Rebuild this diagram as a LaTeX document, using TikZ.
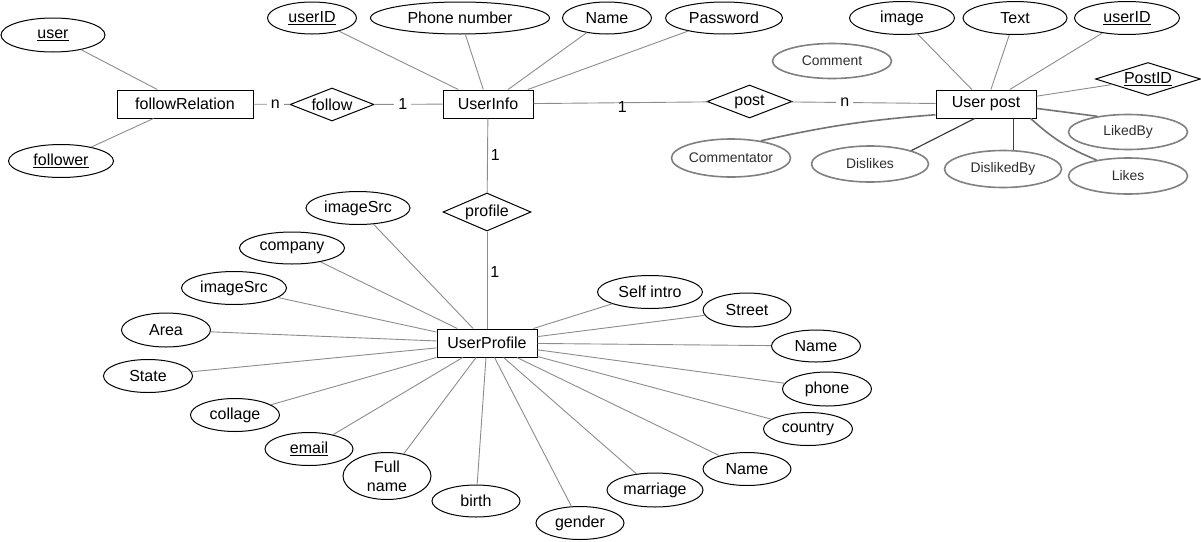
\documentclass[tikz,border=0pt]{standalone}
\usepackage{fontspec}
\setmainfont{Liberation Sans}
\usetikzlibrary{shapes.geometric}
\begin{document}
\begin{tikzpicture}[x=1pt,y=-1pt,
  every node/.style={font=\fontsize{16}{19}\selectfont, inner sep=0pt},
  sz/.style 2 args={minimum width=#1pt, minimum height=#2pt},
  attr/.style={ellipse, draw, line width=1pt},
  gattr/.style={ellipse, draw=black!50, line width=1.6pt, text=black!82, font=\fontsize{13.9}{16}\selectfont},
  ent/.style={rectangle, draw, line width=1pt},
  rel/.style={diamond, draw, line width=1pt, shape aspect=2.6},
  conn/.style={draw=black!45, line width=0.9pt},
  gconn/.style={draw=black!55, line width=1.6pt},
  dconn/.style={draw=black!75, line width=1.2pt},
  card/.style={fill=white, inner xsep=4pt, inner ysep=1pt},
]
\useasboundingbox (0,0) rectangle (1201,541);

% ---------- follow part
\node[attr, sz={104}{34}] (user) at (53,35) {\underline{user}};
\node[attr, sz={105}{33}] (follower) at (61,161) {\underline{follower}};
\node[ent, sz={136}{28}] (fr) at (185,104) {followRelation};
\node[rel, sz={84}{33}] (follow) at (332,104.5) {follow};

% ---------- UserInfo
\node[attr, sz={89}{32}] (uid) at (312,18) {\underline{userID}};
\node[attr, sz={179}{32}] (phn) at (460,18) {Phone number};
\node[attr, sz={89}{32}] (nm) at (607,18) {Name};
\node[attr, sz={117}{32}] (pwd) at (724,18) {Password};
\node[ent, sz={90}{28}] (ui) at (488,104) {UserInfo};
\node[rel, sz={85}{33}] (post) at (749.5,101.5) {post};

% ---------- User post
\node[ent, sz={100}{28}] (upost) at (986,104) {User post};
\node[attr, sz={105}{33}] (img) at (902,18) {image};
\node[attr, sz={104}{33}] (txt) at (1015,18) {Text};
\node[attr, sz={105}{33}] (uid2) at (1127,18) {\underline{userID}};
\node[rel, sz={105}{33}] (pid) at (1148,79) {\underline{PostID}};
\node[gattr, sz={119}{35}] (cmnt) at (832,61) {Comment};
\node[gattr, sz={119}{35}] (lkb) at (1128,132) {LikedBy};
\node[gattr, sz={119}{36}] (likes) at (1128,176) {Likes};
\node[gattr, sz={117}{37}] (disby) at (1003,169) {DislikedBy};
\node[gattr, sz={117}{36}] (dis) at (870,164) {Dislikes};
\node[gattr, sz={117}{38}] (cmt) at (731,158) {Commentator};

% ---------- profile
\node[rel, sz={88}{38}] (profile) at (487,212) {profile};
\node[ent, sz={100}{28}] (up) at (487,343) {UserProfile};
\node[attr, sz={104}{33}] (isrcA) at (358,208) {imageSrc};
\node[attr, sz={105}{32}] (comp) at (292,248) {company};
\node[attr, sz={105}{33}] (isrcB) at (234,288) {imageSrc};
\node[attr, sz={89}{34}] (area) at (166,330) {Area};
\node[attr, sz={89}{33}] (state) at (148,376) {State};
\node[attr, sz={89}{33}] (coll) at (235,415) {collage};
\node[attr, sz={88}{33}] (email) at (309,449) {\underline{email}};
\node[attr, sz={88}{47}, align=center] (fname) at (387,476) {Full\\name};
\node[attr, sz={88}{32}] (birth) at (476,501) {birth};
\node[attr, sz={88}{33}] (gender) at (580,523) {gender};
\node[attr, sz={96}{34}] (marr) at (655,490) {marriage};
\node[attr, sz={88}{33}] (nmC) at (747,469) {Name};
\node[attr, sz={89}{33}] (country) at (808,429) {country};
\node[attr, sz={89}{34}] (phB) at (827,389) {phone};
\node[attr, sz={89}{32}] (nmB) at (816,346) {Name};
\node[attr, sz={88}{34}] (street) at (747,310) {Street};
\node[attr, sz={105}{33}] (intro) at (650,292) {Self intro};

% ---------- connectors
\draw[conn] (user) -- (fr);
\draw[conn] (follower) -- (fr);
\draw[conn] (fr) -- node[card, pos=0.6] {n} (follow);
\draw[conn] (follow) -- node[card, pos=0.42] {1} (ui);

\foreach \a in {uid,phn,nm,pwd} \draw[conn] (\a) -- (ui);
\draw[conn] (ui) -- node[pos=0.51, yshift=-3.8pt] {1} (post);
\draw[conn] (post) -- node[card, pos=0.37] {n} (upost);

\foreach \a in {img,txt,uid2,pid} \draw[conn] (\a) -- (upost);
\draw[gconn] (cmt.30) to[bend left=4] (upost.192);
\draw[dconn] (dis.18) -- (upost.232);
\draw[dconn] (disby.61) -- (disby.61 |- upost.south);
\draw[gconn] (upost.-5) -- (lkb.153);
\draw[gconn] (upost.342) to[bend right=10] (likes.153);

\draw[conn] (ui) -- node[pos=0.49, right=3pt] {1} (profile);
\draw[conn] (profile) -- node[pos=0.42, right=3pt] {1} (up);

\foreach \a in {isrcA,comp,isrcB,area,state,coll,email,fname,birth,gender,marr,nmC,country,phB,nmB,street,intro}
  \draw[conn] (\a) -- (up);
\end{tikzpicture}
\end{document}
